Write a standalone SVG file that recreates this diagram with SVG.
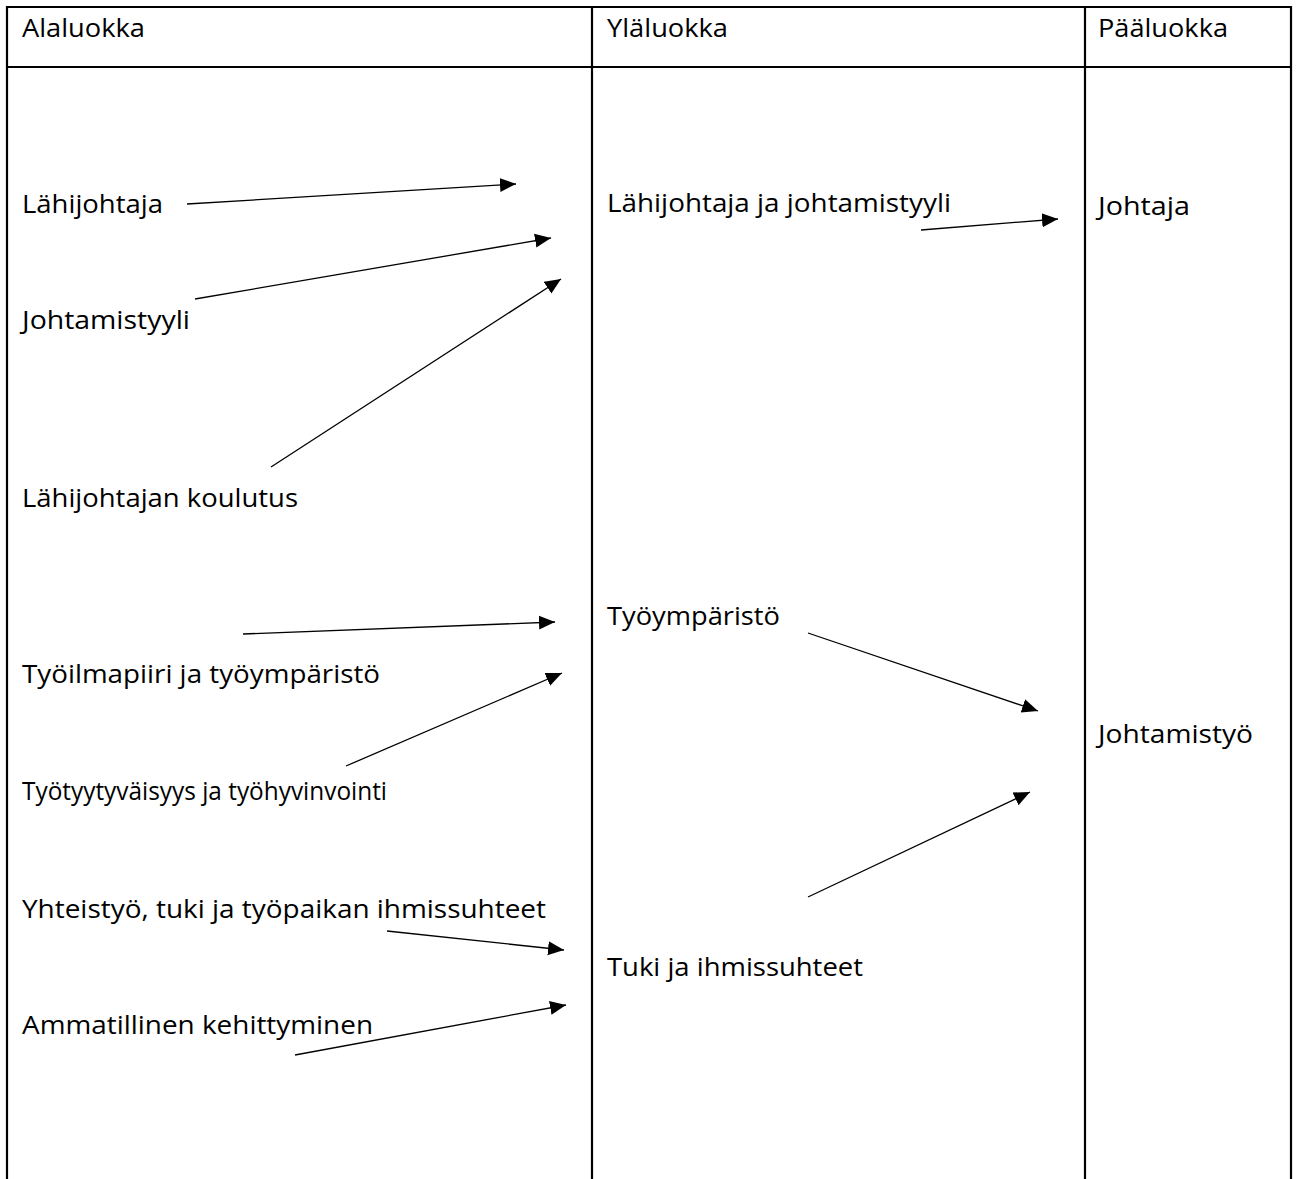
<svg xmlns="http://www.w3.org/2000/svg" width="1302" height="1179" viewBox="0 0 1302 1179">
<style>
.t{font-family:"Open Sans","Noto Sans","Liberation Sans",sans-serif;font-size:25px;fill:#000}
.b{stroke:#000;stroke-width:2.2;fill:none}
.c{stroke:#000;stroke-width:1.3;fill:none;marker-end:url(#ah)}
</style>
<defs>
<marker id="ah" markerUnits="userSpaceOnUse" markerWidth="16" markerHeight="16" viewBox="0 0 16 14" refX="16" refY="7" orient="auto">
<path d="M0,0 L16,7 L0,14 Z" fill="#000"/>
</marker>
</defs>
<rect width="1302" height="1179" fill="#fff"/>
<g id="table">
<line class="b" x1="6" y1="7" x2="1292" y2="7"/>
<line class="b" x1="6" y1="67" x2="1292" y2="67"/>
<line class="b" x1="7" y1="6" x2="7" y2="1179"/>
<line class="b" x1="592" y1="6" x2="592" y2="1179"/>
<line class="b" x1="1085" y1="6" x2="1085" y2="1179"/>
<line class="b" x1="1291" y1="6" x2="1291" y2="1179"/>
</g>
<g id="headers">
<text class="t" x="22" y="37" textLength="123" lengthAdjust="spacingAndGlyphs">Alaluokka</text>
<text class="t" x="607" y="37" textLength="121" lengthAdjust="spacingAndGlyphs">Yläluokka</text>
<text class="t" x="1098" y="37" textLength="130" lengthAdjust="spacingAndGlyphs">Pääluokka</text>
</g>
<g id="n-lahijohtaja"><text class="t" x="22" y="213" textLength="141" lengthAdjust="spacingAndGlyphs">Lähijohtaja</text></g>
<g id="n-johtamistyyli"><text class="t" x="22" y="329" textLength="168" lengthAdjust="spacingAndGlyphs">Johtamistyyli</text></g>
<g id="n-koulutus"><text class="t" x="22" y="507" textLength="276" lengthAdjust="spacingAndGlyphs">Lähijohtajan koulutus</text></g>
<g id="n-tyoilmapiiri"><text class="t" x="22" y="683" textLength="358" lengthAdjust="spacingAndGlyphs">Työilmapiiri ja työympäristö</text></g>
<g id="n-tyotyytyvaisyys"><text class="t" x="22" y="800" textLength="365" lengthAdjust="spacingAndGlyphs">Työtyytyväisyys ja työhyvinvointi</text></g>
<g id="n-yhteistyo"><text class="t" x="22" y="918" textLength="524" lengthAdjust="spacingAndGlyphs">Yhteistyö, tuki ja työpaikan ihmissuhteet</text></g>
<g id="n-ammatillinen"><text class="t" x="22" y="1034" textLength="351" lengthAdjust="spacingAndGlyphs">Ammatillinen kehittyminen</text></g>
<g id="n-lahijohtaja-johtamistyyli"><text class="t" x="607" y="212" textLength="344" lengthAdjust="spacingAndGlyphs">Lähijohtaja ja johtamistyyli</text></g>
<g id="n-tyoymparisto"><text class="t" x="607" y="625" textLength="173" lengthAdjust="spacingAndGlyphs">Työympäristö</text></g>
<g id="n-tuki"><text class="t" x="607" y="976" textLength="256" lengthAdjust="spacingAndGlyphs">Tuki ja ihmissuhteet</text></g>
<g id="n-johtaja"><text class="t" x="1098" y="215" textLength="92" lengthAdjust="spacingAndGlyphs">Johtaja</text></g>
<g id="n-johtamistyo"><text class="t" x="1098" y="743" textLength="155" lengthAdjust="spacingAndGlyphs">Johtamistyö</text></g>
<g id="connectors">
<line class="c" x1="187" y1="204" x2="516" y2="184"/>
<line class="c" x1="195" y1="299" x2="551" y2="238"/>
<line class="c" x1="271" y1="467" x2="561" y2="279"/>
<line class="c" x1="243" y1="634" x2="555" y2="622"/>
<line class="c" x1="346" y1="766" x2="562" y2="673"/>
<line class="c" x1="387" y1="931" x2="564" y2="950"/>
<line class="c" x1="295" y1="1055" x2="566" y2="1005"/>
<line class="c" x1="921" y1="230" x2="1058" y2="219"/>
<line class="c" x1="808" y1="633" x2="1038" y2="711"/>
<line class="c" x1="808" y1="897" x2="1030" y2="792"/>
</g>
</svg>
